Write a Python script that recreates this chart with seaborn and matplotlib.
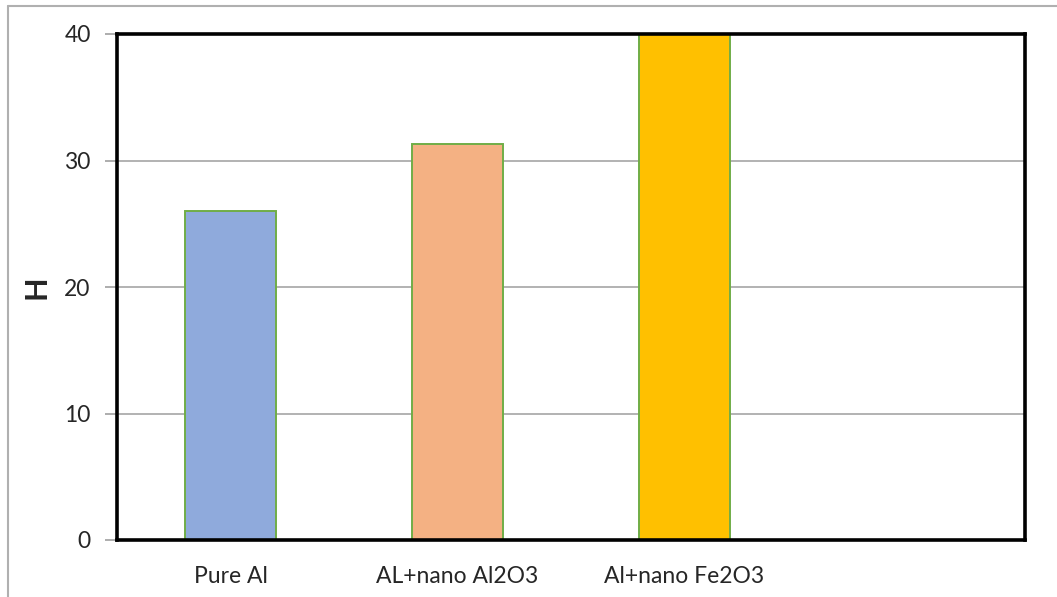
import matplotlib
matplotlib.use("Agg")
import matplotlib.pyplot as plt
from matplotlib.lines import Line2D
import seaborn as sns
import pandas as pd

# Hardness values per material
categories = ["Pure Al", "AL+nano Al2O3", "Al+nano Fe2O3"]
hardness = [26.0, 31.3, 40.0]
bar_colors = ["#8FAADC", "#F4B183", "#FFC000"]
y_ticks = [0, 10, 20, 30, 40]

sns.set_theme(style="white")
plt.rcParams["font.family"] = ["Lato", "DejaVu Sans"]

df = pd.DataFrame({"material": categories, "H": hardness})

fig = plt.figure(figsize=(10.57, 5.97), dpi=100)
ax = fig.add_axes([117 / 1057, 57 / 597, 908 / 1057, 506 / 597])

sns.barplot(data=df, x="material", y="H", hue="material", palette=bar_colors,
            order=categories, width=0.405, edgecolor="#70AD47", linewidth=1.4,
            saturation=1, legend=False, ax=ax, zorder=3)

# Four category slots; the last one stays empty
ax.set_xlim(-0.5, 3.5)
ax.set_ylim(0, 40)
ax.set_yticks(y_ticks)
ax.set_yticklabels([str(v) for v in y_ticks], fontsize=16.5)
ax.set_xticks([0, 1, 2])
ax.set_xticklabels(categories, fontsize=16.5)
ax.set_xticks([-0.5, 0.5, 1.5, 2.5, 3.5], minor=True)
ax.tick_params(axis="x", which="major", length=0, pad=19)
ax.tick_params(axis="x", which="minor", length=8, width=1.2, color="#A0A0A0", direction="out")
ax.tick_params(axis="y", which="major", length=9, width=1.2, color="#A0A0A0",
               direction="out", left=True, pad=10)

ax.yaxis.grid(True, color="#A6A6A6", linewidth=1.2, zorder=0)
ax.xaxis.grid(False)
ax.set_axisbelow(True)

ax.set_xlabel("")
ax.set_ylabel("H", fontsize=22, fontweight="bold")
ax.yaxis.set_label_coords(-0.073, 0.5)

for side in ["top", "right", "left", "bottom"]:
    ax.spines[side].set_visible(True)
    ax.spines[side].set_color("black")
    ax.spines[side].set_linewidth(2.6)
    ax.spines[side].set_zorder(5)

# Chart-area border along the top and left edges
fig.add_artist(Line2D([8 / 1057, 1.0], [1 - 6 / 597, 1 - 6 / 597],
                      transform=fig.transFigure, color="#B0B0B0", linewidth=1.5))
fig.add_artist(Line2D([8 / 1057, 8 / 1057], [0.0, 1 - 6 / 597],
                      transform=fig.transFigure, color="#B0B0B0", linewidth=1.5))

fig.savefig("out.png", dpi=100, facecolor="white")
